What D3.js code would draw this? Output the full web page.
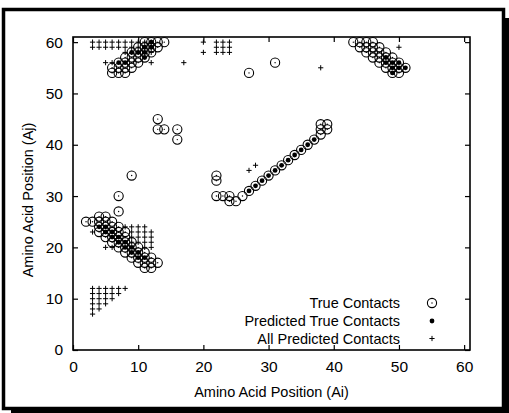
<!DOCTYPE html>
<html lang="en">
<head>
    <meta charset="utf-8">
    <title>Contact map: true vs predicted contacts</title>
    <style>
        body { margin: 0; background: #fff; }
        svg text { font-family: "Liberation Sans", Arial, sans-serif; fill: #000; }
    </style>
</head>
<body>
    <script src="https://d3js.org/d3.v7.min.js"></script>
    <script>
    // Data: [Ai, Aj] pairs
    var trueContacts = [
        [6,54],[7,54],[8,54],
        [6,55],[7,55],[8,55],[9,55],
        [7,56],[8,56],[9,56],[10,56],
        [8,57],[9,57],[10,57],[11,57],
        [9,58],[10,58],[11,58],[12,58],
        [10,59],[11,59],[12,59],[13,59],
        [11,60],[12,60],[13,60],[14,60],
        [13,45],[13,43],[14,43],[16,43],[16,41],[9,34],[7,30],[7,27],
        [4,26],[5,26],
        [2,25],[3,25],[4,25],[5,25],[6,25],
        [4,24],[5,24],[6,24],[7,24],
        [4,23],[5,23],[6,23],[7,23],[8,23],
        [5,22],[6,22],[7,22],[8,22],
        [6,21],[7,21],[8,21],[9,21],
        [7,20],[8,20],[9,20],[10,20],
        [8,19],[9,19],[10,19],[11,19],
        [9,18],[10,18],[11,18],[12,18],
        [10,17],[11,17],[12,17],[13,17],
        [11,16],[12,16],
        [22,34],[22,33],[22,30],[23,30],[24,30],[24,29],[25,29],[26,30],
        [27,31],[28,32],[29,33],[30,34],[31,35],[32,36],[33,37],[34,38],[35,39],[36,40],[37,41],
        [38,42],[38,43],[38,44],[39,43],[39,44],
        [27,54],[31,56],
        [43,60],[44,60],[45,60],[46,60],
        [44,59],[45,59],[46,59],[47,59],
        [45,58],[46,58],[47,58],[48,58],
        [46,57],[47,57],[48,57],[49,57],
        [47,56],[48,56],[49,56],[50,56],
        [48,55],[49,55],[50,55],[51,55],
        [49,54],[50,54]
    ];

    var predictedTrue = [
        [7,56],[8,56],[9,58],[10,58],[11,58],[11,57],[11,59],[12,59],[12,60],
        [4,24],[5,24],[5,23],[6,23],[6,22],[7,22],[7,21],[8,21],[8,20],[9,20],[9,19],[10,19],[10,18],[11,18],
        [27,31],[28,32],[29,33],[30,34],[31,35],[32,36],[33,37],[34,38],[35,39],[36,40],[37,41],
        [48,56],[49,56],[50,56],[48,57],[49,55],[50,55],[51,55],[49,54]
    ];

    var allPredicted = [
        [3,60],[4,60],[5,60],[6,60],[7,60],[8,60],[9,60],[10,60],[11,60],[12,60],
        [3,59],[4,59],[5,59],[6,59],[7,59],[8,59],[9,59],[10,59],[11,59],[12,59],
        [8,58],[9,58],[10,58],[11,58],[12,58],
        [5,56],[6,56],[12,56],[17,56],
        [20,60],[20,58],[22,60],[22,59],[22,58],[23,60],[23,59],[23,58],[24,60],[24,59],[24,58],
        [38,55],[50,59],[27,35],[28,36],
        [3,12],[3,11],[3,10],[3,9],[3,8],[3,7],
        [4,12],[4,11],[4,10],[4,9],[4,8],
        [5,12],[5,11],[5,10],[5,9],
        [6,12],[6,11],[6,10],
        [7,12],[7,11],
        [8,12],
        [3,23],[5,20],[6,20],[8,24],
        [9,24],[9,23],[9,22],[9,21],
        [10,24],[10,23],[10,22],[10,21],
        [11,24],[11,23],[11,22],[11,21],[11,20],
        [12,23],[12,22],[12,21],[12,20]
    ];

    var xTicks = [0, 10, 20, 30, 40, 50, 60];
    var yTicks = [0, 10, 20, 30, 40, 50, 60];
    var legendLabels = ["True Contacts", "Predicted True Contacts", "All Predicted Contacts"];

    var w = 509;
    var h = 413;
    var plotLeft = 73, plotRight = 470, plotTop = 37, plotBottom = 350;

    var svg = d3.select("body")
        .append("svg")
        .attr("width", w)
        .attr("height", h);

    // framed page with drop shadow
    svg.append("rect")
        .attr("x", 11).attr("y", 18)
        .attr("width", w - 11).attr("height", h - 18)
        .attr("fill", "#000");
    svg.append("rect")
        .attr("x", 3.5).attr("y", 9.5)
        .attr("width", 500).attr("height", 399)
        .attr("fill", "#fff")
        .attr("stroke", "#000")
        .attr("stroke-width", 3.5);

    var x = d3.scaleLinear().domain([0, 60.9]).range([plotLeft, plotRight]);
    var y = d3.scaleLinear().domain([0, 61]).range([plotBottom, plotTop]);

    function styleAxis(g) {
        g.select(".domain").remove();
        g.selectAll(".tick line").attr("stroke", "#000").attr("stroke-width", 1.2);
        g.selectAll("text").style("font-size", "15.5px").style("font-family", "Liberation Sans, Arial, sans-serif");
    }

    svg.append("g")
        .attr("transform", "translate(0," + plotBottom + ")")
        .call(d3.axisBottom(x).tickValues(xTicks).tickSize(-5).tickPadding(11))
        .call(styleAxis);
    svg.append("g")
        .attr("transform", "translate(0," + plotTop + ")")
        .call(d3.axisTop(x).tickValues(xTicks).tickSize(-5).tickFormat(""))
        .call(styleAxis);
    svg.append("g")
        .attr("transform", "translate(" + plotLeft + ",0)")
        .call(d3.axisLeft(y).tickValues(yTicks).tickSize(-5).tickPadding(10))
        .call(styleAxis);
    svg.append("g")
        .attr("transform", "translate(" + plotRight + ",0)")
        .call(d3.axisRight(y).tickValues(yTicks).tickSize(-5).tickFormat(""))
        .call(styleAxis);

    // plot border
    svg.append("rect")
        .attr("x", plotLeft).attr("y", plotTop)
        .attr("width", plotRight - plotLeft).attr("height", plotBottom - plotTop)
        .attr("fill", "none")
        .attr("stroke", "#000")
        .attr("stroke-width", 1.6);

    // axis titles
    svg.append("text")
        .attr("x", (plotLeft + plotRight) / 2)
        .attr("y", 397)
        .attr("text-anchor", "middle")
        .style("font-size", "14.5px")
        .text("Amino Acid Position (Ai)");
    svg.append("text")
        .attr("transform", "translate(33,200) rotate(-90)")
        .attr("text-anchor", "middle")
        .style("font-size", "14.5px")
        .text("Amino Acid Position (Aj)");

    function plus(sel, size) {
        sel.append("path")
            .attr("d", "M" + (-size) + ",0H" + size + "M0," + (-size) + "V" + size)
            .attr("stroke", "#000")
            .attr("stroke-width", 1);
    }
    function trueMark(sel) {
        sel.append("circle").attr("r", 4.6).attr("fill", "none").attr("stroke", "#000").attr("stroke-width", 1.1);
        sel.append("circle").attr("r", 0.7).attr("fill", "#000");
    }
    function dotMark(sel) {
        sel.append("circle").attr("r", 2.4).attr("fill", "#000");
    }

    var marks = svg.append("g");

    marks.append("g").selectAll("g")
        .data(allPredicted)
        .enter().append("g")
        .attr("transform", function(d) { return "translate(" + x(d[0]) + "," + y(d[1]) + ")"; })
        .call(plus, 2.6);

    marks.append("g").selectAll("g")
        .data(trueContacts)
        .enter().append("g")
        .attr("transform", function(d) { return "translate(" + x(d[0]) + "," + y(d[1]) + ")"; })
        .call(trueMark);

    marks.append("g").selectAll("g")
        .data(predictedTrue)
        .enter().append("g")
        .attr("transform", function(d) { return "translate(" + x(d[0]) + "," + y(d[1]) + ")"; })
        .call(dotMark);

    // legend
    var legend = svg.append("g");
    var rowY = [303, 321, 338.5];
    legendLabels.forEach(function(label, i) {
        legend.append("text")
            .attr("x", 400)
            .attr("y", rowY[i] + 5.2)
            .attr("text-anchor", "end")
            .style("font-size", "14.5px")
            .text(label);
        var g = legend.append("g").attr("transform", "translate(432," + rowY[i] + ")");
        if (i === 0) g.call(trueMark);
        else if (i === 1) g.call(dotMark);
        else g.call(plus, 2.6);
    });
    </script>
</body>
</html>
